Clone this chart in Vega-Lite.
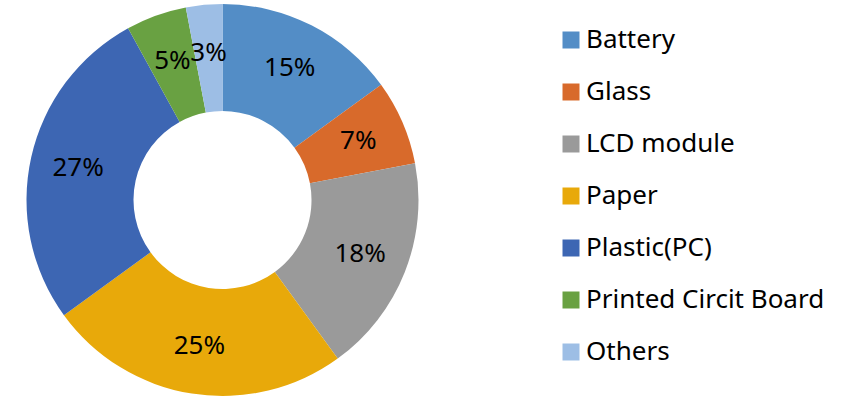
{
  "$schema": "https://vega.github.io/schema/vega-lite/v6.json",
  "width": 445,
  "height": 400,
  "padding": {"left": 0, "top": 0, "right": 0, "bottom": 0},
  "background": "white",
  "data": {
    "values": [
      {"material": "Battery", "share": 0.15, "idx": 1},
      {"material": "Glass", "share": 0.07, "idx": 2},
      {"material": "LCD module", "share": 0.18, "idx": 3},
      {"material": "Paper", "share": 0.25, "idx": 4},
      {"material": "Plastic(PC)", "share": 0.27, "idx": 5},
      {"material": "Printed Circit Board", "share": 0.05, "idx": 6},
      {"material": "Others", "share": 0.03, "idx": 7}
    ]
  },
  "encoding": {
    "theta": {"field": "share", "type": "quantitative", "stack": true},
    "order": {"field": "idx", "type": "quantitative"}
  },
  "layer": [
    {
      "mark": {"type": "arc", "innerRadius": 89, "outerRadius": 196},
      "encoding": {
        "color": {
          "field": "material",
          "type": "nominal",
          "sort": ["Battery", "Glass", "LCD module", "Paper", "Plastic(PC)", "Printed Circit Board", "Others"],
          "scale": {
            "domain": ["Battery", "Glass", "LCD module", "Paper", "Plastic(PC)", "Printed Circit Board", "Others"],
            "range": ["#538DC6", "#D86A2B", "#9A9A9A", "#E8A90A", "#3D66B3", "#69A142", "#9DBEE5"]
          },
          "legend": {
            "title": null,
            "orient": "none",
            "legendX": 558,
            "legendY": 27,
            "padding": 0,
            "symbolType": "square",
            "symbolSize": 289,
            "symbolStrokeWidth": 0,
            "labelFont": "Noto Sans",
            "labelFontSize": 26,
            "labelColor": "#000000",
            "labelOffset": 2,
            "rowPadding": 26,
            "labelLimit": 400
          }
        }
      }
    },
    {
      "mark": {"type": "text", "radius": 148, "font": "Noto Sans", "fontSize": 26, "color": "#000000"},
      "encoding": {
        "text": {"field": "share", "type": "quantitative", "format": ".0%"}
      }
    }
  ]
}
